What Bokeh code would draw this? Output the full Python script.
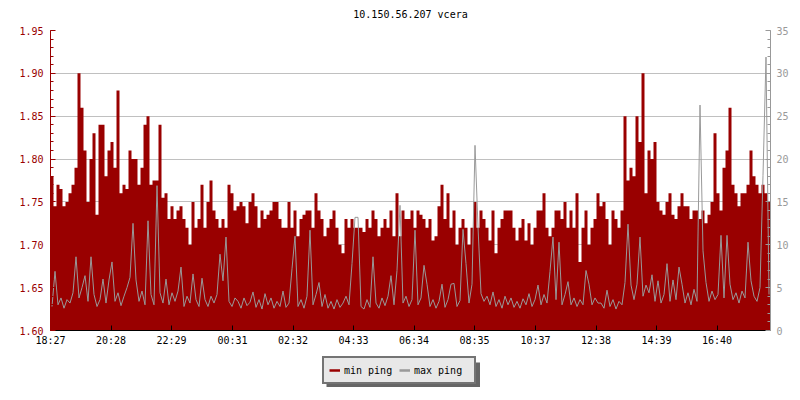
from bokeh.plotting import figure
from bokeh.layouts import column
from bokeh.models import (Range1d, LinearAxis, FixedTicker, Legend, LegendItem,
                          BoxAnnotation, Label)
from bokeh.embed import file_html
from bokeh.resources import INLINE

title_text = "10.150.56.207 vcera"
tick_labels = ["18:27", "20:28", "22:29", "00:31", "02:32", "04:33",
               "06:34", "08:35", "10:37", "12:38", "14:39", "16:40"]
left_ticks = [1.60, 1.65, 1.70, 1.75, 1.80, 1.85, 1.90, 1.95]
right_ticks = [0, 5, 10, 15, 20, 25, 30, 35]
series_names = ["min ping", "max ping"]
step_minutes = 6  # one sample every 6 minutes over 24 hours

min_ping = [
    1.78, 1.745, 1.77, 1.765, 1.745, 1.75, 1.76, 1.77, 1.79, 1.90,
    1.86, 1.81, 1.75, 1.80, 1.83, 1.735, 1.84, 1.84, 1.78, 1.81,
    1.82, 1.79, 1.88, 1.76, 1.77, 1.765, 1.81, 1.80, 1.80, 1.77,
    1.79, 1.84, 1.85, 1.77, 1.775, 1.775, 1.84, 1.755, 1.76, 1.73,
    1.745, 1.73, 1.74, 1.745, 1.73, 1.72, 1.70, 1.75, 1.72, 1.73,
    1.77, 1.72, 1.75, 1.775, 1.74, 1.73, 1.72, 1.73, 1.72, 1.77,
    1.76, 1.74, 1.745, 1.75, 1.745, 1.725, 1.75, 1.76, 1.745, 1.72,
    1.74, 1.73, 1.735, 1.74, 1.75, 1.75, 1.73, 1.72, 1.72, 1.75,
    1.72, 1.74, 1.71, 1.73, 1.735, 1.74, 1.74, 1.72, 1.76, 1.74,
    1.73, 1.71, 1.72, 1.73, 1.74, 1.72, 1.70, 1.69, 1.73, 1.72,
    1.73, 1.72, 1.72, 1.72, 1.715, 1.73, 1.72, 1.74, 1.73, 1.71,
    1.72, 1.73, 1.72, 1.74, 1.71, 1.76, 1.71, 1.74, 1.73, 1.73,
    1.74, 1.72, 1.74, 1.735, 1.73, 1.72, 1.73, 1.705, 1.71, 1.745,
    1.77, 1.73, 1.76, 1.72, 1.74, 1.70, 1.72, 1.73, 1.72, 1.70,
    1.72, 1.75, 1.72, 1.74, 1.73, 1.72, 1.705, 1.74, 1.69, 1.72,
    1.73, 1.74, 1.74, 1.74, 1.72, 1.705, 1.72, 1.73, 1.705, 1.725,
    1.70, 1.72, 1.74, 1.74, 1.76, 1.72, 1.71, 1.72, 1.74, 1.74,
    1.73, 1.75, 1.72, 1.74, 1.72, 1.76, 1.68, 1.72, 1.74, 1.70,
    1.72, 1.73, 1.76, 1.745, 1.75, 1.73, 1.70, 1.74, 1.73, 1.72,
    1.74, 1.85, 1.775, 1.79, 1.78, 1.85, 1.82, 1.90, 1.76, 1.81,
    1.80, 1.82, 1.75, 1.74, 1.735, 1.75, 1.76, 1.735, 1.73, 1.745,
    1.76, 1.745, 1.745, 1.73, 1.74, 1.74, 1.73, 1.74, 1.725, 1.735,
    1.75, 1.83, 1.76, 1.74, 1.79, 1.81, 1.86, 1.77, 1.76, 1.745,
    1.76, 1.76, 1.77, 1.81, 1.78, 1.77, 1.76, 1.77, 1.76, 1.75,
]

max_ping = [
    2.8, 6.9, 3.0, 3.8, 2.6, 3.6, 3.2, 4.4, 8.6, 3.8,
    5.0, 6.4, 3.4, 8.6, 4.2, 2.8, 3.6, 6.0, 3.2, 5.9,
    8.0, 3.4, 4.4, 2.9, 4.0, 5.0, 6.2, 12.5, 5.9, 3.4,
    4.6, 3.0, 12.8, 4.2, 3.0, 16.9, 4.4, 3.2, 6.0, 3.0,
    4.4, 3.4, 4.6, 7.4, 2.8, 4.0, 3.2, 6.6, 3.6, 2.8,
    6.1, 3.6, 2.8, 4.0, 3.2, 4.2, 8.9, 5.8, 10.9, 3.4,
    2.8, 3.8, 3.4, 2.6, 3.8, 2.9, 3.3, 4.5, 2.7, 3.6,
    2.5, 4.3, 3.0, 3.8, 2.6, 3.4, 2.8, 4.6, 2.7, 3.2,
    7.2, 11.0, 2.8, 3.6, 2.6, 4.0, 11.7, 3.0, 4.2, 5.6,
    2.8, 4.2, 2.6, 3.4, 2.5, 3.6, 2.7, 3.2, 4.0, 3.0,
    7.8, 13.2, 13.2, 2.8, 2.5, 3.6, 2.7, 8.6, 3.2, 2.6,
    3.8, 2.9, 4.0, 6.4, 3.0, 7.0, 14.6, 3.2, 4.0, 2.8,
    3.6, 11.7, 3.0, 3.8, 7.6, 5.4, 2.8, 3.6, 2.6, 3.4,
    5.4, 2.7, 3.6, 5.4, 5.5, 2.8, 3.5, 11.8, 7.8, 3.2,
    5.4, 21.6, 12.1, 4.3, 3.4, 4.0, 3.0, 4.5, 2.8, 3.6,
    2.6, 4.0, 3.0, 3.8, 2.7, 3.4, 2.6, 3.7, 3.0, 4.3,
    2.8, 3.6, 5.3, 3.0, 4.2, 3.2, 6.9, 10.9, 3.6, 10.3,
    3.0, 4.2, 5.7, 3.0, 3.8, 2.8, 3.6, 3.0, 7.0, 5.4,
    3.0, 3.8, 3.2, 3.2, 2.6, 4.7, 2.8, 3.6, 2.5, 3.4,
    3.0, 5.6, 12.4, 5.3, 3.6, 5.4, 10.9, 4.0, 5.3, 4.4,
    6.5, 3.4, 5.8, 3.2, 4.2, 7.8, 3.4, 5.9, 3.6, 7.4,
    5.4, 3.2, 4.4, 3.0, 4.8, 3.4, 26.3, 9.3, 5.6, 3.4,
    4.6, 3.6, 4.2, 11.1, 3.8, 11.1, 5.4, 3.6, 4.4, 3.2,
    4.6, 3.8, 10.3, 5.8, 4.0, 3.4, 5.0, 18.1, 31.9, 4.2,
]

RED = "#990000"
GREY = "#999999"
FONT = "DejaVu Sans Mono"


def minutes_from_start(label, start=tick_labels[0]):
    h, m = map(int, label.split(":"))
    sh, sm = map(int, start.split(":"))
    return ((h * 60 + m) - (sh * 60 + sm)) % 1440


tick_pos = [minutes_from_start(t) for t in tick_labels]
xs = [step_minutes * (i + 0.5) for i in range(len(min_ping))]
x_end = step_minutes * len(min_ping)

# step outline of the min-ping series (each sample holds for its interval)
step_x, step_y = [], []
for i, v in enumerate(min_ping):
    step_x += [step_minutes * i, step_minutes * (i + 1)]
    step_y += [v, v]


def strip(height):
    """A blank strip (x in page pixels, y in pixels downward) for title / legend."""
    s = figure(width=800, height=height, x_range=Range1d(50, 770),
               y_range=Range1d(height, 0), output_backend="svg",
               toolbar_location=None, x_axis_location=None, y_axis_location=None,
               min_border=0, min_border_left=50, min_border_right=30,
               min_border_top=0, min_border_bottom=0)
    s.grid.visible = False
    s.outline_line_color = None
    s.background_fill_color = "white"
    s.border_fill_color = "white"
    return s


# title strip
pt = strip(22)
pt.add_layout(Label(x=410, y=13.5, text=title_text, text_font=FONT,
                    text_font_size="10px", text_color="black",
                    text_align="center", text_baseline="middle"))

# main chart
p = figure(width=800, height=328, x_range=Range1d(0, x_end),
           y_range=Range1d(left_ticks[0], left_ticks[-1]),
           output_backend="svg", toolbar_location=None,
           min_border_left=50, min_border_right=30,
           min_border_top=8, min_border_bottom=20)
p.extra_y_ranges = {"max": Range1d(right_ticks[0], right_ticks[-1])}

p.outline_line_color = None
p.background_fill_color = "white"
p.border_fill_color = "white"

# grid
p.xgrid.grid_line_color = None
p.ygrid.grid_line_color = "#c0c0c0"
p.ygrid.ticker = FixedTicker(ticks=left_ticks)

# data
p.varea(x=step_x, y1=left_ticks[0], y2=step_y, fill_color=RED)
p.line(xs, max_ping, y_range_name="max", line_color=GREY, line_width=1)

# left axis
ya = p.yaxis[0]
ya.ticker = FixedTicker(ticks=left_ticks,
                        minor_ticks=[round(left_ticks[0] + 0.01 * k, 2) for k in range(36)])
ya.major_label_overrides = {v: f"{v:.2f}" for v in left_ticks}
ya.axis_line_color = RED
ya.major_tick_line_color = RED
ya.minor_tick_line_color = RED
ya.major_label_text_color = RED
ya.major_tick_in = 5
ya.major_tick_out = 0
ya.minor_tick_in = 3
ya.minor_tick_out = 0
ya.major_label_text_font = FONT
ya.major_label_text_font_size = "10px"
ya.major_label_standoff = 7

# right axis
ra = LinearAxis(y_range_name="max",
                ticker=FixedTicker(ticks=right_ticks, minor_ticks=list(range(36))))
ra.axis_line_color = GREY
ra.major_tick_line_color = GREY
ra.minor_tick_line_color = GREY
ra.major_label_text_color = GREY
ra.major_tick_in = 5
ra.major_tick_out = 0
ra.minor_tick_in = 3
ra.minor_tick_out = 0
ra.major_label_text_font = FONT
ra.major_label_text_font_size = "10px"
ra.major_label_standoff = 6
p.add_layout(ra, "right")

# bottom axis
xa = p.xaxis[0]
xa.ticker = FixedTicker(ticks=tick_pos)
xa.major_label_overrides = {v: lab for v, lab in zip(tick_pos, tick_labels)}
xa.axis_line_color = "black"
xa.major_tick_line_color = "black"
xa.minor_tick_line_color = None
xa.major_tick_in = 5
xa.major_tick_out = 0
xa.major_label_text_font = FONT
xa.major_label_text_font_size = "10px"
xa.major_label_text_color = "black"
xa.major_label_standoff = 4

# legend strip below the chart
p2 = strip(50)
shadow = BoxAnnotation(left=326, right=479.5, top=12, bottom=36.5,
                       fill_color="#666666", fill_alpha=1.0, line_color=None)
p2.add_layout(shadow)

nan = float("nan")
r_min = p2.line([nan], [nan], line_color=RED, line_width=2.5)
r_max = p2.line([nan], [nan], line_color=GREY, line_width=2.5)
legend = Legend(items=[LegendItem(label=series_names[0], renderers=[r_min]),
                       LegendItem(label=series_names[1], renderers=[r_max])],
                orientation="horizontal", location=(272, 16), margin=0,
                padding=5, spacing=0, label_standoff=4, glyph_width=11,
                glyph_height=14, label_height=14, label_width=55,
                background_fill_color="#e8e8e8", background_fill_alpha=1.0,
                border_line_color="black", border_line_width=2,
                label_text_font=FONT, label_text_font_size="10px",
                label_text_color="black")
p2.add_layout(legend, "center")

layout = column(pt, p, p2, spacing=0)
open("out.html", "w").write(file_html(layout, INLINE))
